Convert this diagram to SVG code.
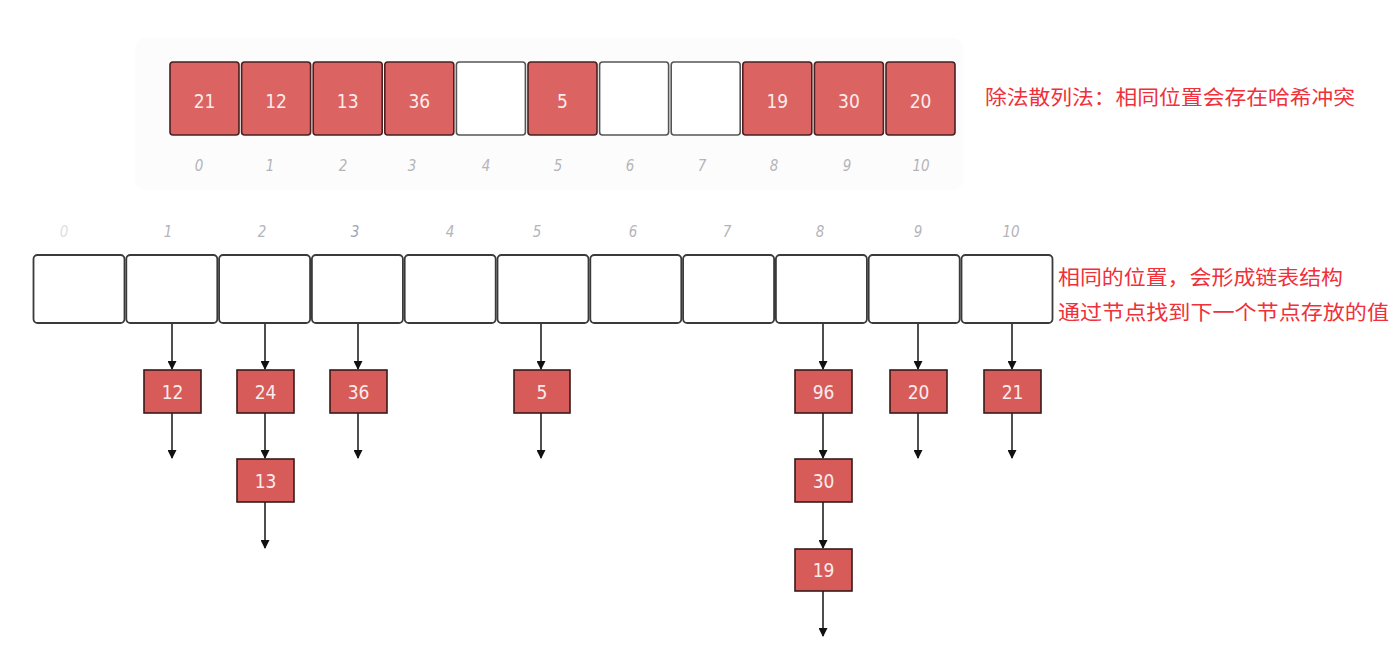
<svg xmlns="http://www.w3.org/2000/svg" width="1399" height="654" viewBox="0 0 1399 654">
<defs>
<style>
.cell{fill:#db6361;stroke:#4a2020;stroke-width:1.6}
.empty{fill:#ffffff;stroke:#555;stroke-width:1.6}
.bucket{fill:#ffffff;stroke:#3a3a3a;stroke-width:1.8}
.node{fill:#d65b59;stroke:#3a1a1a;stroke-width:1.6}
.val{font-family:"DejaVu Sans Condensed","DejaVu Sans","Liberation Sans",sans-serif;font-stretch:condensed;font-size:19px;fill:#fbecec;text-anchor:middle}
.idx{font-family:"DejaVu Sans Condensed","DejaVu Sans",sans-serif;font-stretch:condensed;font-style:italic;font-size:15px;fill:#b4b4ba;text-anchor:middle}
.note{font-family:"Noto Sans CJK SC","Noto Sans",sans-serif;font-size:20px;fill:#f0303a}
.conn{stroke:#222;stroke-width:1.6;fill:none;marker-end:url(#ah)}
</style>
<marker id="ah" viewBox="0 0 10 10" refX="9" refY="5" markerWidth="10" markerHeight="9" markerUnits="userSpaceOnUse" orient="auto">
<path d="M0,0 L10,5 L0,10 z" fill="#111"/>
</marker>
</defs>
<rect width="1399" height="654" fill="#ffffff"/>
<rect x="135" y="38" width="828" height="152" rx="10" fill="#fcfcfc"/>

<g id="top-array">
<g id="t0"><rect class="cell" x="170" y="62" width="69" height="73" rx="3"/><text class="val" x="204.5" y="108">21</text><text class="idx" x="199" y="171">0</text></g>
<g id="t1"><rect class="cell" x="241.6" y="62" width="69" height="73" rx="3"/><text class="val" x="276" y="108">12</text><text class="idx" x="270" y="171">1</text></g>
<g id="t2"><rect class="cell" x="313.2" y="62" width="69" height="73" rx="3"/><text class="val" x="347.7" y="108">13</text><text class="idx" x="343" y="171">2</text></g>
<g id="t3"><rect class="cell" x="384.8" y="62" width="69" height="73" rx="3"/><text class="val" x="419.3" y="108">36</text><text class="idx" x="412" y="171">3</text></g>
<g id="t4"><rect class="empty" x="456.4" y="62" width="69" height="73" rx="3"/><text class="idx" x="486" y="171">4</text></g>
<g id="t5"><rect class="cell" x="528" y="62" width="69" height="73" rx="3"/><text class="val" x="562.5" y="108">5</text><text class="idx" x="558" y="171">5</text></g>
<g id="t6"><rect class="empty" x="599.6" y="62" width="69" height="73" rx="3"/><text class="idx" x="630" y="171">6</text></g>
<g id="t7"><rect class="empty" x="671.2" y="62" width="69" height="73" rx="3"/><text class="idx" x="702" y="171">7</text></g>
<g id="t8"><rect class="cell" x="742.8" y="62" width="69" height="73" rx="3"/><text class="val" x="777.3" y="108">19</text><text class="idx" x="774" y="171">8</text></g>
<g id="t9"><rect class="cell" x="814.4" y="62" width="69" height="73" rx="3"/><text class="val" x="848.9" y="108">30</text><text class="idx" x="847" y="171">9</text></g>
<g id="t10"><rect class="cell" x="886" y="62" width="69" height="73" rx="3"/><text class="val" x="920.5" y="108">20</text><text class="idx" x="921" y="171">10</text></g>
</g>

<text id="note1" class="note" x="985" y="105" textLength="370" lengthAdjust="spacingAndGlyphs">除法散列法：相同位置会存在哈希冲突</text>

<g id="buckets">
<g id="b0"><rect class="bucket" x="33.5" y="255" width="91" height="68" rx="4"/><text class="idx" x="64" y="237" style="fill:#dedee2">0</text></g>
<g id="b1"><rect class="bucket" x="126.3" y="255" width="91" height="68" rx="4"/><text class="idx" x="168" y="237">1</text></g>
<g id="b2"><rect class="bucket" x="219.1" y="255" width="91" height="68" rx="4"/><text class="idx" x="262" y="237">2</text></g>
<g id="b3"><rect class="bucket" x="311.9" y="255" width="91" height="68" rx="4"/><text class="idx" x="355" y="237" style="fill:#9aa4b4">3</text></g>
<g id="b4"><rect class="bucket" x="404.7" y="255" width="91" height="68" rx="4"/><text class="idx" x="450" y="237">4</text></g>
<g id="b5"><rect class="bucket" x="497.5" y="255" width="91" height="68" rx="4"/><text class="idx" x="537" y="237">5</text></g>
<g id="b6"><rect class="bucket" x="590.3" y="255" width="91" height="68" rx="4"/><text class="idx" x="633" y="237">6</text></g>
<g id="b7"><rect class="bucket" x="683.1" y="255" width="91" height="68" rx="4"/><text class="idx" x="727" y="237">7</text></g>
<g id="b8"><rect class="bucket" x="775.9" y="255" width="91" height="68" rx="4"/><text class="idx" x="820" y="237">8</text></g>
<g id="b9"><rect class="bucket" x="868.7" y="255" width="91" height="68" rx="4"/><text class="idx" x="918" y="237">9</text></g>
<g id="b10"><rect class="bucket" x="961.5" y="255" width="91" height="68" rx="4"/><text class="idx" x="1011" y="237">10</text></g>
</g>

<text id="note2" class="note" x="1058" y="285" textLength="285" lengthAdjust="spacingAndGlyphs">相同的位置，会形成链表结构</text>
<text id="note3" class="note" x="1058" y="320" textLength="331" lengthAdjust="spacingAndGlyphs">通过节点找到下一个节点存放的值</text>

<g id="connectors">
<line class="conn" x1="172" y1="324" x2="172" y2="369"/>
<line class="conn" x1="172" y1="413" x2="172" y2="458"/>
<line class="conn" x1="265" y1="324" x2="265" y2="369"/>
<line class="conn" x1="265" y1="413" x2="265" y2="458"/>
<line class="conn" x1="265" y1="502" x2="265" y2="548"/>
<line class="conn" x1="358" y1="324" x2="358" y2="369"/>
<line class="conn" x1="358" y1="413" x2="358" y2="458"/>
<line class="conn" x1="541" y1="324" x2="541" y2="369"/>
<line class="conn" x1="541" y1="413" x2="541" y2="458"/>
<line class="conn" x1="823" y1="324" x2="823" y2="369"/>
<line class="conn" x1="823" y1="413" x2="823" y2="458"/>
<line class="conn" x1="823" y1="502" x2="823" y2="548"/>
<line class="conn" x1="823" y1="591" x2="823" y2="636"/>
<line class="conn" x1="918" y1="324" x2="918" y2="369"/>
<line class="conn" x1="918" y1="413" x2="918" y2="458"/>
<line class="conn" x1="1012" y1="324" x2="1012" y2="369"/>
<line class="conn" x1="1012" y1="413" x2="1012" y2="458"/>
</g>

<g id="n12"><rect class="node" x="144" y="370" width="57" height="43"/><text class="val" x="172.5" y="399">12</text></g>
<g id="n24"><rect class="node" x="237" y="370" width="57" height="43"/><text class="val" x="265.5" y="399">24</text></g>
<g id="n13"><rect class="node" x="237" y="459" width="57" height="43"/><text class="val" x="265.5" y="488">13</text></g>
<g id="n36"><rect class="node" x="330" y="370" width="57" height="43"/><text class="val" x="358.5" y="399">36</text></g>
<g id="n5"><rect class="node" x="514" y="370" width="56" height="43"/><text class="val" x="542" y="399">5</text></g>
<g id="n96"><rect class="node" x="795" y="370" width="57" height="43"/><text class="val" x="823.5" y="399">96</text></g>
<g id="n30"><rect class="node" x="795" y="459" width="57" height="43"/><text class="val" x="823.5" y="488">30</text></g>
<g id="n19"><rect class="node" x="795" y="549" width="57" height="42"/><text class="val" x="823.5" y="577">19</text></g>
<g id="n20"><rect class="node" x="890" y="370" width="57" height="43"/><text class="val" x="918.5" y="399">20</text></g>
<g id="n21"><rect class="node" x="984" y="370" width="57" height="43"/><text class="val" x="1012.5" y="399">21</text></g>
</svg>
